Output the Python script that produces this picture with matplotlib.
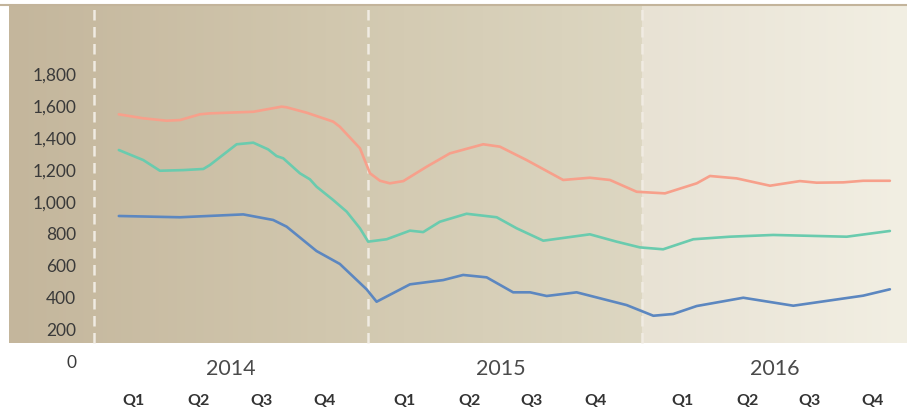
import numpy as np
import matplotlib
matplotlib.use('Agg')
import matplotlib.pyplot as plt
from matplotlib.colors import LinearSegmentedColormap

# x values are months since Jan 2014
salmon_x = [1.09, 2.16, 3.18, 3.77, 4.64, 5.08, 6.98, 8.22, 8.44, 9.32, 10.48, 10.77,
            11.65, 12.09, 12.53, 12.96, 13.55, 14.57, 15.59, 17.05, 17.78, 18.95,
            20.55, 21.72, 22.60, 23.77, 25.01, 26.40, 26.98, 28.15, 29.61, 30.92,
            31.65, 32.82, 33.69, 34.86]
salmon_y = [1548, 1523, 1508, 1512, 1548, 1554, 1564, 1596, 1592, 1558, 1502, 1470,
            1335, 1178, 1131, 1115, 1129, 1219, 1303, 1360, 1345, 1261,
            1136, 1150, 1136, 1062, 1052, 1115, 1161, 1146, 1100, 1129,
            1119, 1121, 1131, 1131]

teal_x = [1.09, 2.16, 2.89, 3.91, 4.79, 5.08, 6.25, 6.98, 7.63, 8.00, 8.29, 9.02,
          9.46, 9.75, 10.48, 11.07, 11.65, 12.01, 12.82, 13.84, 14.42, 15.15,
          16.32, 17.64, 18.51, 19.68, 21.72, 22.89, 23.91, 24.93, 26.25, 27.85,
          29.75, 32.97, 34.86]
teal_y = [1324, 1261, 1194, 1198, 1205, 1230, 1360, 1370, 1328, 1286, 1272, 1178,
          1140, 1094, 1010, 937, 833, 749, 764, 818, 809, 874,
          924, 902, 833, 755, 795, 749, 713, 701, 764, 780,
          791, 780, 816]

blue_x = [1.09, 3.77, 6.54, 7.85, 8.44, 9.75, 10.77, 11.94, 12.38, 13.84, 15.30,
          16.17, 17.20, 18.36, 19.10, 19.83, 21.14, 23.33, 24.50, 25.37, 26.40,
          28.44, 30.63, 33.69, 34.86]
blue_y = [910, 902, 920, 885, 843, 690, 609, 450, 372, 481, 508,
          540, 525, 431, 431, 408, 431, 351, 284, 295, 345,
          397, 347, 410, 450]

years = ['2014', '2015', '2016']
year_pos = [6.0, 17.8, 29.8]
year_bounds = [0, 12, 24]
quarters = ['Q1', 'Q2', 'Q3', 'Q4'] * 3
quarter_pos = [1.75, 4.60, 7.32, 10.08, 13.62, 16.47, 19.18, 21.95,
               25.76, 28.64, 31.36, 34.12]
y_ticks = [0, 200, 400, 600, 800, 1000, 1200, 1400, 1600, 1800]

W, H = 907, 412
fig = plt.figure(figsize=(W / 100, H / 100), dpi=100)

# axes from panel top (y=5px) down to figure bottom
ax = fig.add_axes([9 / W, 0, (W - 9) / W, (H - 5) / H])
ax.set_xlim(-3.72, 35.61)
y_top = 2234
y_bot = -320
panel_bot = 113
ax.set_ylim(y_bot, y_top)

# background panel
dark = LinearSegmentedColormap.from_list('d', ['#c4b69c', '#d1c7ae', '#ddd7c2'])
light = LinearSegmentedColormap.from_list('l', ['#e8e2d4', '#f2efe3'])
grad = np.linspace(0, 1, 256).reshape(1, -1)
ax.imshow(grad, cmap=dark, aspect='auto', extent=[-3.72, 24, panel_bot, y_top],
          zorder=0)
ax.imshow(grad, cmap=light, aspect='auto', extent=[24, 35.61, panel_bot, y_top],
          zorder=0)

for b in year_bounds:
    ax.plot([b, b], [panel_bot, y_top], color='#f0ebe2', lw=1.8,
            dashes=(4.2, 2.6), zorder=1)

for xs, ys, c in [(salmon_x, salmon_y, '#f7a08b'),
                  (teal_x, teal_y, '#6acbae'),
                  (blue_x, blue_y, '#5c87c0')]:
    ax.plot(xs, ys, color=c, lw=1.9, solid_joinstyle='round',
            solid_capstyle='round', zorder=3)

ax.set_yticks(y_ticks)
ax.set_yticklabels([f'{v:,}' for v in y_ticks])
ax.tick_params(axis='y', length=0, pad=-48.5, labelsize=12.5, labelcolor='#3a3a3a')
for lab in ax.get_yticklabels():
    lab.set_horizontalalignment('right')
    lab.set_family('Lato')
ax.set_xticks([])
for s in ax.spines.values():
    s.set_visible(False)
ax.patch.set_visible(False)

for p, t in zip(year_pos, years):
    ax.text(p, -50, t, ha='center', va='center', fontsize=15.5, color='#4a4a4a',
            family='Lato')
for p, t in zip(quarter_pos, quarters):
    ax.text(p, -251, t, ha='center', va='center', fontsize=11.5, color='#333333',
            family='Lato', fontweight='bold')

# thin tan rule across the top
fig.add_artist(plt.Line2D([0, 1], [1 - 4.5 / H, 1 - 4.5 / H], color='#c3b49b', lw=1.5))

fig.savefig('out.png', dpi=100)
